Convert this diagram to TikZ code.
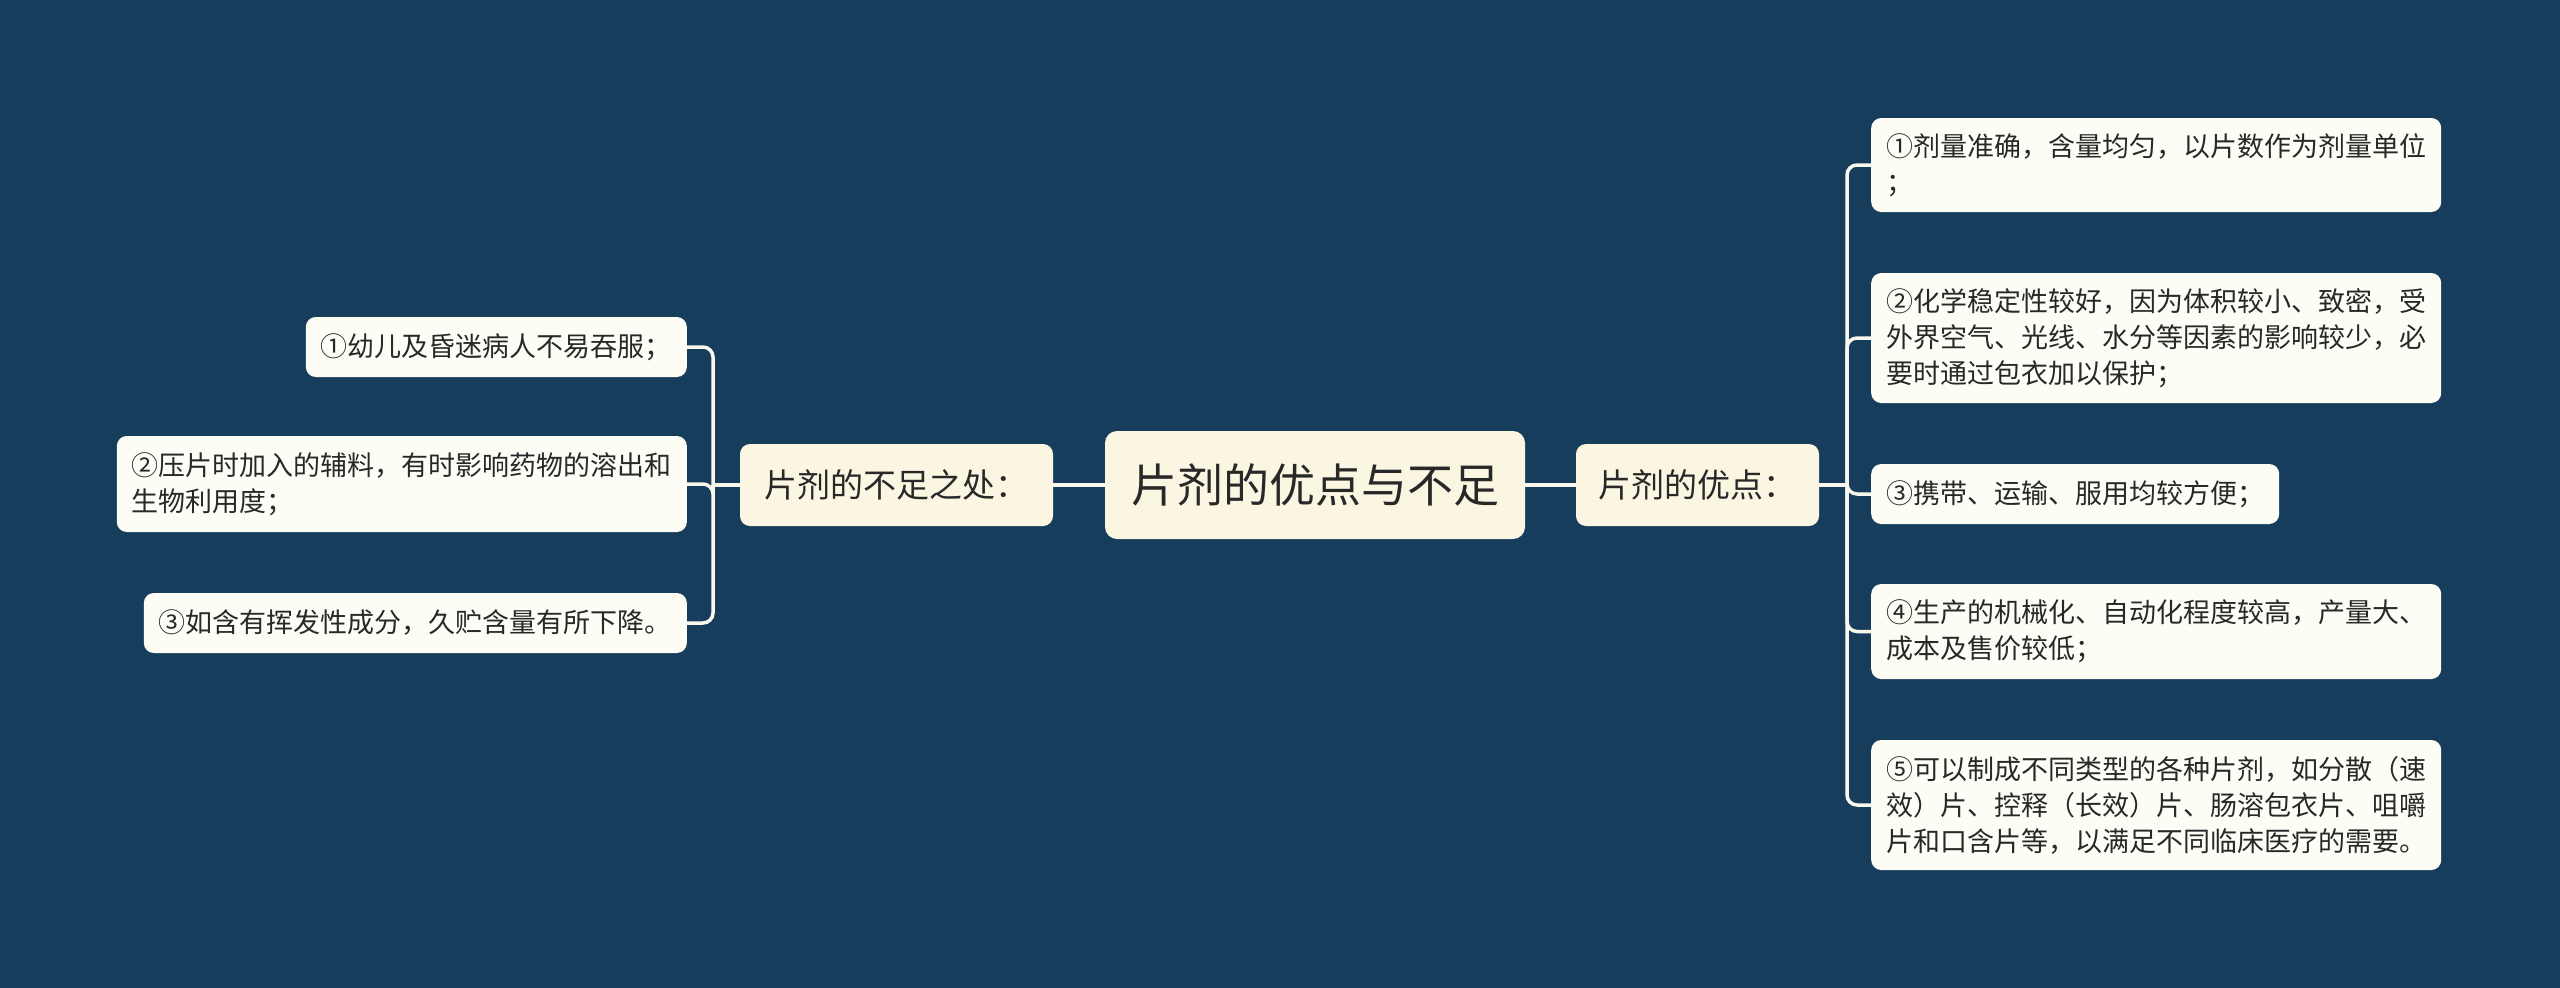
\documentclass[tikz,border=0pt]{standalone}
\usepackage{fontspec}
\setmainfont{Noto Sans CJK SC}
\definecolor{bg}{RGB}{23,61,92}
\definecolor{rootfill}{RGB}{250,246,226}
\definecolor{leaffill}{RGB}{253,253,246}
\definecolor{linec}{RGB}{250,248,236}
\definecolor{txt}{RGB}{40,40,40}
\begin{document}
\begin{tikzpicture}[x=1pt,y=-1pt,
  conn/.style={draw=linec, line width=3.5pt, rounded corners=10pt},
  rootbox/.style={fill=rootfill, rounded corners=12pt, text=txt, font=\fontsize{46}{56}\selectfont, minimum width=420pt, minimum height=108pt, inner sep=0pt},
  subbox/.style={fill=rootfill, rounded corners=10pt, text=txt, font=\fontsize{33}{40}\selectfont, minimum height=82pt, inner sep=0pt},
  leaf/.style={fill=leaffill, rounded corners=10pt, text=txt, font=\fontsize{27}{36}\selectfont, align=left, inner xsep=15pt, inner ysep=0pt},
]
\fill[bg] (0,0) rectangle (2560,988);
\useasboundingbox (0,0) rectangle (2560,988);

\node[rootbox] (root) at (1315,485) {片剂的优点与不足};
\node[subbox, minimum width=243pt] (rs) at (1697.5,485) {片剂的优点：};
\node[subbox, minimum width=313pt] (ls) at (896.5,485) {片剂的不足之处：};

\node[leaf, anchor=west, minimum height=94pt] (r1) at (1871,165) {①剂量准确，含量均匀，以片数作为剂量单位\\；};
\node[leaf, anchor=west, minimum height=130pt] (r2) at (1871,338) {②化学稳定性较好，因为体积较小、致密，受\\外界空气、光线、水分等因素的影响较少，必\\要时通过包衣加以保护；};
\node[leaf, anchor=west, minimum height=60pt] (r3) at (1871,494) {③携带、运输、服用均较方便；};
\node[leaf, anchor=west, minimum height=95pt] (r4) at (1871,631.5) {④生产的机械化、自动化程度较高，产量大、\\成本及售价较低；};
\node[leaf, anchor=west, minimum height=130pt] (r5) at (1871,805) {⑤可以制成不同类型的各种片剂，如分散（速\\效）片、控释（长效）片、肠溶包衣片、咀嚼\\片和口含片等，以满足不同临床医疗的需要。};

\node[leaf, anchor=east, minimum height=60pt] (l1) at (687,347) {①幼儿及昏迷病人不易吞服；};
\node[leaf, anchor=east, minimum height=96pt] (l2) at (687,484) {②压片时加入的辅料，有时影响药物的溶出和\\生物利用度；};
\node[leaf, anchor=east, minimum height=60pt] (l3) at (687,623) {③如含有挥发性成分，久贮含量有所下降。};

\coordinate (rj) at (1847,485);
\coordinate (lj) at (713,485);

\draw[conn] (root.east) -- (rs.west);
\draw[conn] (root.west) -- (ls.east);
\draw[conn] (rs.east) -- (rj);
\draw[conn] (ls.west) -- (lj);
\foreach \n in {r1,r2,r3,r4,r5} \draw[conn] (rj) |- (\n.west);
\foreach \n in {l1,l2,l3} \draw[conn] (lj) |- (\n.east);
\end{tikzpicture}
\end{document}
